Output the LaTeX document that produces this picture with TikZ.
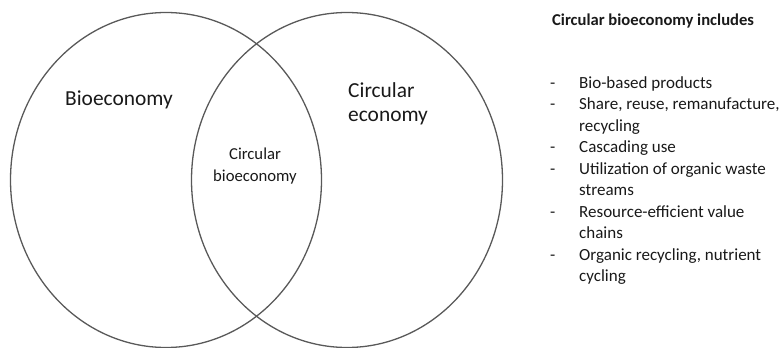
\documentclass[tikz,border=0pt]{standalone}
\usepackage{fontspec}
\setmainfont{Carlito}
\usetikzlibrary{shapes.geometric}

\begin{document}
\begin{tikzpicture}[x=1pt, y=-1pt]

\tikzset{set/.style = {shape=ellipse, draw=black!65, line width=1.3pt, minimum width=311pt, minimum height=335pt, inner sep=0pt}}
\tikzset{big/.style = {font=\fontsize{21.4}{24}\selectfont, text=black!90, inner sep=0pt}}
\tikzset{small/.style = {font=\fontsize{16.7}{22}\selectfont, text=black!90, inner sep=0pt}}
\tikzset{list/.style = {font=\fontsize{17}{21.5}\selectfont, text=black!90, inner sep=0pt}}

\useasboundingbox (0,0) rectangle (782,348);

%sets
\node[set] (bio) at (166,180) {};
\node[set] (circ) at (347,180) {};
%labels
\node[big, anchor=west] (biolabel) at (65,100) {Bioeconomy};
\node[big, anchor=west, align=left] (circlabel) at (348,104) {Circular\\economy};
\node[small, align=center] (both) at (255,166) {Circular\\bioeconomy};
%list
\node[list, anchor=west, font=\fontsize{16.6}{20}\selectfont\bfseries] (title) at (552,21) {Circular bioeconomy includes};
\node[list, anchor=north west] (items) at (550,73) {%
\begin{tabular}{@{}p{29pt}@{}l@{}}
- & Bio-based products\\
- & Share, reuse, remanufacture,\\
 & recycling\\
- & Cascading use\\
- & Utilization of organic waste\\
 & streams\\
- & Resource-efficient value\\
 & chains\\
- & Organic recycling, nutrient\\
 & cycling
\end{tabular}};

\end{tikzpicture}
\end{document}
